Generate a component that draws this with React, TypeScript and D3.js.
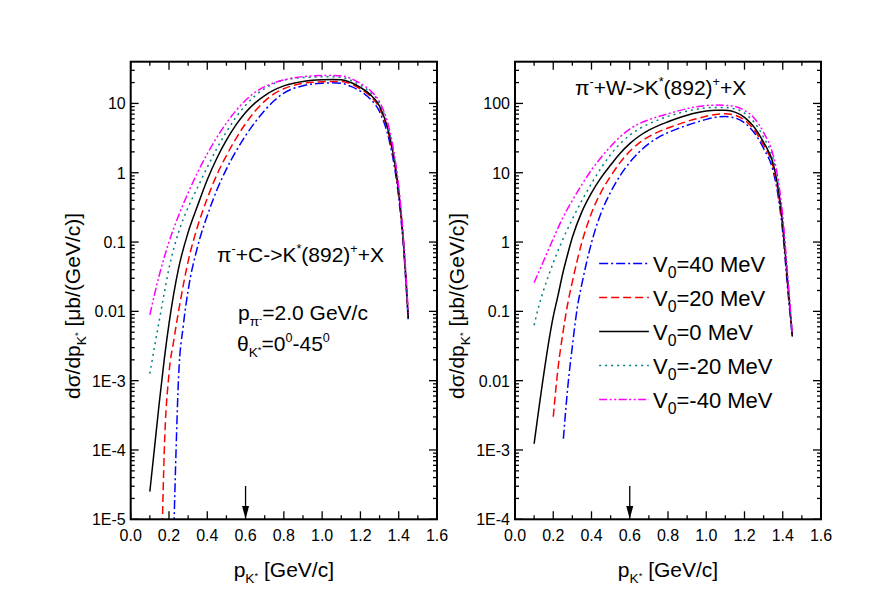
import React from 'react';
import * as d3 from 'd3';

// pi- + C  (left panel): [p_K* (GeV/c), dsigma/dp (mub/(GeV/c))]
const carbonV40 = [[0.226, 7.94e-6], [0.237, 1e-4], [0.25, 1.12e-3], [0.275, 6.31e-3], [0.3, 0.02], [0.35, 0.0871], [0.4, 0.24], [0.45, 0.562], [0.5, 1.13], [0.55, 2.04], [0.6, 3.43], [0.65, 5.37], [0.7, 7.94], [0.75, 11.0], [0.8, 14.1], [0.85, 16.4], [0.9, 18.0], [0.95, 19.1], [1.0, 19.6], [1.05, 19.8], [1.1, 19.5], [1.15, 17.6], [1.2, 15.0], [1.25, 11.7], [1.3, 7.59], [1.35, 2.95], [1.375, 1.35], [1.4, 0.437], [1.425, 0.0832], [1.45, 0.00708]];
const carbonV20 = [[0.165, 7.94e-6], [0.175, 8.91e-5], [0.2, 1.26e-3], [0.225, 3.8e-3], [0.25, 0.01], [0.3, 0.0525], [0.35, 0.17], [0.4, 0.427], [0.45, 0.933], [0.5, 1.77], [0.55, 3.11], [0.6, 5.11], [0.65, 7.76], [0.7, 10.8], [0.75, 13.8], [0.8, 16.3], [0.85, 18.2], [0.9, 19.5], [0.95, 20.2], [1.0, 20.6], [1.05, 20.8], [1.1, 20.8], [1.15, 19.1], [1.2, 16.2], [1.25, 12.9], [1.3, 8.51], [1.35, 3.39], [1.375, 1.55], [1.4, 0.501], [1.425, 0.0933], [1.45, 0.00794]];
const carbonV0 = [[0.1, 2.51e-5], [0.125, 1.12e-4], [0.15, 5.01e-4], [0.175, 2.0e-3], [0.2, 6.61e-3], [0.25, 0.0417], [0.3, 0.138], [0.35, 0.339], [0.4, 0.794], [0.45, 1.62], [0.5, 2.95], [0.55, 4.9], [0.6, 7.41], [0.65, 10.2], [0.7, 13.0], [0.75, 15.7], [0.8, 17.9], [0.85, 19.6], [0.9, 20.8], [0.95, 21.6], [1.0, 22.0], [1.05, 22.2], [1.1, 21.9], [1.15, 20.0], [1.2, 17.0], [1.25, 13.5], [1.3, 9.12], [1.35, 3.63], [1.375, 1.66], [1.4, 0.537], [1.425, 0.1], [1.45, 0.00794]];
const carbonVm20 = [[0.1, 1.26e-3], [0.125, 3.16e-3], [0.15, 7.59e-3], [0.175, 0.0182], [0.2, 0.0417], [0.25, 0.138], [0.3, 0.316], [0.35, 0.617], [0.4, 1.2], [0.45, 2.24], [0.5, 3.89], [0.55, 6.31], [0.6, 9.44], [0.65, 12.9], [0.7, 16.4], [0.75, 19.5], [0.8, 21.6], [0.85, 22.9], [0.9, 23.6], [0.95, 24.0], [1.0, 24.2], [1.05, 24.2], [1.1, 23.7], [1.15, 21.6], [1.2, 18.4], [1.25, 14.6], [1.3, 10.0], [1.35, 3.98], [1.375, 1.82], [1.4, 0.589], [1.425, 0.107], [1.45, 0.00891]];
const carbonVm40 = [[0.1, 8.91e-3], [0.15, 0.0339], [0.2, 0.1], [0.25, 0.24], [0.3, 0.513], [0.35, 1.02], [0.4, 1.88], [0.45, 3.24], [0.5, 5.21], [0.55, 7.89], [0.6, 11.1], [0.65, 14.5], [0.7, 17.5], [0.75, 19.9], [0.8, 21.9], [0.85, 23.4], [0.9, 24.4], [0.95, 24.9], [1.0, 25.3], [1.05, 25.4], [1.1, 25.0], [1.15, 22.9], [1.2, 19.5], [1.25, 15.5], [1.3, 10.5], [1.35, 4.37], [1.375, 2.0], [1.4, 0.631], [1.425, 0.112], [1.45, 0.00955]];

// pi- + W  (right panel)
const tungstenV40 = [[0.253, 1.45e-3], [0.275, 7.59e-3], [0.3, 0.0316], [0.325, 0.11], [0.35, 0.251], [0.4, 0.977], [0.45, 2.63], [0.5, 5.25], [0.55, 9.12], [0.6, 14.1], [0.65, 20.0], [0.7, 26.3], [0.75, 32.4], [0.8, 38.0], [0.85, 43.2], [0.9, 48.4], [0.95, 53.7], [1.0, 58.9], [1.05, 63.1], [1.1, 64.6], [1.15, 61.7], [1.2, 52.5], [1.25, 38.0], [1.3, 22.4], [1.35, 10.5], [1.375, 4.79], [1.4, 1.38], [1.425, 0.224], [1.45, 0.0427]];
const tungstenV20 = [[0.2, 3.02e-3], [0.225, 0.0151], [0.25, 0.0479], [0.275, 0.126], [0.3, 0.269], [0.35, 1.0], [0.4, 2.63], [0.45, 5.25], [0.5, 8.91], [0.55, 14.1], [0.6, 20.4], [0.65, 26.9], [0.7, 33.1], [0.75, 38.9], [0.8, 44.2], [0.85, 49.5], [0.9, 55.0], [0.95, 60.3], [1.0, 65.3], [1.05, 69.2], [1.1, 70.8], [1.15, 67.6], [1.2, 57.5], [1.25, 41.7], [1.3, 25.1], [1.35, 12.0], [1.375, 5.5], [1.4, 1.58], [1.425, 0.251], [1.45, 0.0437]];
const tungstenV0 = [[0.1, 1.23e-3], [0.2, 0.0841], [0.225, 0.17], [0.25, 0.355], [0.275, 0.661], [0.3, 1.17], [0.35, 2.75], [0.4, 5.13], [0.45, 8.51], [0.5, 12.9], [0.55, 19.1], [0.6, 26.3], [0.65, 33.9], [0.7, 41.2], [0.75, 47.9], [0.8, 54.3], [0.85, 61.0], [0.9, 67.6], [0.95, 73.3], [1.0, 77.6], [1.05, 79.8], [1.1, 79.4], [1.15, 75.0], [1.2, 63.1], [1.25, 45.7], [1.3, 27.5], [1.35, 13.5], [1.375, 6.31], [1.4, 1.78], [1.425, 0.282], [1.45, 0.0437]];
const tungstenVm20 = [[0.1, 0.0631], [0.125, 0.12], [0.15, 0.204], [0.2, 0.501], [0.25, 1.09], [0.3, 2.15], [0.35, 3.98], [0.4, 7.0], [0.45, 11.7], [0.5, 18.3], [0.55, 26.3], [0.6, 34.8], [0.65, 43.1], [0.7, 50.7], [0.75, 57.9], [0.8, 65.0], [0.85, 71.6], [0.9, 77.6], [0.95, 82.6], [1.0, 86.1], [1.05, 87.7], [1.1, 87.1], [1.15, 83.2], [1.2, 72.4], [1.25, 53.7], [1.3, 32.4], [1.35, 15.5], [1.375, 7.24], [1.4, 2.04], [1.425, 0.316], [1.45, 0.0457]];
const tungstenVm40 = [[0.1, 0.26], [0.15, 0.537], [0.2, 1.12], [0.25, 2.24], [0.3, 3.98], [0.35, 6.76], [0.4, 11.0], [0.45, 16.6], [0.5, 24.0], [0.55, 33.1], [0.6, 42.7], [0.65, 51.3], [0.7, 58.2], [0.75, 64.6], [0.8, 70.8], [0.85, 77.6], [0.9, 84.1], [0.95, 89.7], [1.0, 93.3], [1.05, 94.6], [1.1, 93.8], [1.15, 90.2], [1.2, 79.4], [1.25, 61.7], [1.3, 38.0], [1.35, 17.8], [1.375, 8.32], [1.4, 2.4], [1.425, 0.355], [1.45, 0.0468]];

const potentials = ['40', '20', '0', '-20', '-40'];
const xTickLabels = ['0.0', '0.2', '0.4', '0.6', '0.8', '1.0', '1.2', '1.4', '1.6'];
const carbonYLabels = ['1E-5', '1E-4', '1E-3', '0.01', '0.1', '1', '10'];
const tungstenYLabels = ['1E-4', '1E-3', '0.01', '0.1', '1', '10', '100'];
const thresholdP = 0.6;

const styles = [
  { color: '#0000ff', dash: '9,3,2,3' },
  { color: '#ff0000', dash: '8,4' },
  { color: '#000000', dash: null },
  { color: '#008080', dash: '2,4' },
  { color: '#ff00ff', dash: '8,2.5,2,2.5,2,2.5' },
];

const FONT = 'Liberation Sans, Arial, Helvetica, sans-serif';
const TOP = 61.7;
const BOTTOM = 519.3;

type Seg = { t: string; s?: number; sh?: number };

function Rich({ x, y, size, segs, anchor = 'start', transform }: any) {
  let cur = 0;
  return (
    <text x={x} y={y} fontSize={size} textAnchor={anchor} transform={transform} fontFamily={FONT} fill="#000">
      {segs.map((g: Seg, i: number) => {
        const sh = (g.sh ?? 0) * size;
        const dy = -(sh - cur);
        cur = sh;
        return <tspan key={i} dy={dy} fontSize={(g.s ?? 1) * size}>{g.t}</tspan>;
      })}
    </text>
  );
}

const kStar: Seg[] = [{ t: 'K', s: 0.65, sh: -0.3 }, { t: '*', s: 0.45, sh: -0.08 }];
const sup = (t: string): Seg => ({ t, s: 0.6, sh: 0.45 });

function Panel({ id, x0, x1, yMin, yMax, yLabels, curves, children }: any) {
  const x = d3.scaleLinear().domain([0, 1.6]).range([x0, x1]);
  const y = d3.scaleLog().domain([yMin, yMax]).range([BOTTOM, TOP]);
  const line = d3.line<number[]>().x(d => x(d[0])).y(d => y(d[1])).curve(d3.curveMonotoneX);

  const decades = d3.range(Math.log10(yMin), Math.ceil(Math.log10(yMax)) + 1);
  const minor: number[] = [];
  decades.forEach(e => { for (let m = 2; m <= 9; m++) { const v = m * Math.pow(10, e); if (v < yMax) minor.push(v); } });
  const majorY = yLabels.map((_: string, i: number) => Math.pow(10, Math.log10(yMin) + i));
  const xMajor = xTickLabels.map((_, i) => i * 0.2);
  const xMinor = d3.range(1, 16, 2).map(i => i * 0.1);

  const cx = (x0 + x1) / 2;
  const ax = x(thresholdP);
  return (
    <g>
      <defs>
        <clipPath id={id}><rect x={x0} y={TOP} width={x1 - x0} height={BOTTOM - TOP} /></clipPath>
      </defs>
      <g clipPath={`url(#${id})`}>
        {curves.map((c: number[][], i: number) => (
          <path key={i} d={line(c) as string} fill="none" stroke={styles[i].color} strokeWidth={1.5}
            strokeDasharray={styles[i].dash ?? undefined} />
        ))}
      </g>
      <g stroke="#000" strokeWidth={1.3}>
        {xMajor.map((v, i) => (
          <g key={'xm' + i}>
            <line x1={x(v)} x2={x(v)} y1={BOTTOM} y2={BOTTOM - 8} />
            <line x1={x(v)} x2={x(v)} y1={TOP} y2={TOP + 8} />
          </g>
        ))}
        {xMinor.map((v, i) => (
          <g key={'xn' + i}>
            <line x1={x(v)} x2={x(v)} y1={BOTTOM} y2={BOTTOM - 4} />
            <line x1={x(v)} x2={x(v)} y1={TOP} y2={TOP + 4} />
          </g>
        ))}
        {majorY.map((v: number, i: number) => (
          <g key={'ym' + i}>
            <line x1={x0} x2={x0 + 8} y1={y(v)} y2={y(v)} />
            <line x1={x1} x2={x1 - 8} y1={y(v)} y2={y(v)} />
          </g>
        ))}
        {minor.map((v, i) => (
          <g key={'yn' + i}>
            <line x1={x0} x2={x0 + 4} y1={y(v)} y2={y(v)} />
            <line x1={x1} x2={x1 - 4} y1={y(v)} y2={y(v)} />
          </g>
        ))}
      </g>
      <rect x={x0} y={TOP} width={x1 - x0} height={BOTTOM - TOP} fill="none" stroke="#000" strokeWidth={2} />
      {xTickLabels.map((t, i) => (
        <text key={'xl' + i} x={x(xMajor[i])} y={BOTTOM + 22} fontSize={16} textAnchor="middle" fontFamily={FONT}>{t}</text>
      ))}
      {yLabels.map((t: string, i: number) => (
        <text key={'yl' + i} x={x0 - 5} y={y(majorY[i]) + 6} fontSize={16} textAnchor="end" fontFamily={FONT}>{t}</text>
      ))}
      <line x1={ax} x2={ax} y1={486} y2={508} stroke="#000" strokeWidth={1.3} />
      <path d={`M${ax - 3.5},506 L${ax + 3.5},506 L${ax},519 Z`} fill="#000" />
      <Rich x={cx} y={577} size={21} anchor="middle" segs={[{ t: 'p' }, ...kStar, { t: ' [GeV/c]' }]} />
      <Rich x={0} y={0} size={21} anchor="middle" transform={`translate(${x0 - 51},306) rotate(-90)`}
        segs={[{ t: 'dσ/dp' }, ...kStar, { t: ' [μb/(GeV/c)]' }]} />
      {children}
    </g>
  );
}

export default function App() {
  const lx0 = 515, lx1 = 821;
  const legendX = d3.scaleLinear().domain([0, 1.6]).range([lx0, lx1]);
  return (
    <svg width={872} height={611} style={{ position: 'absolute', left: 0, top: 0, background: '#fff' }}>
      <rect width={872} height={611} fill="#fff" />
      <Panel id="clipC" x0={130.7} x1={437} yMin={1e-5} yMax={40} yLabels={carbonYLabels}
        curves={[carbonV40, carbonV20, carbonV0, carbonVm20, carbonVm40]}>
        <Rich x={217} y={262} size={21} segs={[{ t: 'π' }, sup('-'), { t: '+C->K' }, sup('*'), { t: '(892)' }, sup('+'), { t: '+X' }]} />
        <Rich x={238} y={320} size={21} segs={[{ t: 'p' }, { t: 'π', s: 0.65, sh: -0.3 }, { t: '-', s: 0.45, sh: -0.08 }, { t: '=2.0 GeV/c' }]} />
        <Rich x={237} y={351} size={21} segs={[{ t: 'θ' }, ...kStar, { t: '=0' }, sup('0'), { t: '-45' }, sup('0')]} />
      </Panel>
      <Panel id="clipW" x0={lx0} x1={lx1} yMin={1e-4} yMax={400} yLabels={tungstenYLabels}
        curves={[tungstenV40, tungstenV20, tungstenV0, tungstenVm20, tungstenVm40]}>
        <Rich x={575} y={95} size={21} segs={[{ t: 'π' }, sup('-'), { t: '+W->K' }, sup('*'), { t: '(892)' }, sup('+'), { t: '+X' }]} />
        {potentials.map((v, i) => {
          const ly = 263.5 + i * 34;
          return (
            <g key={v}>
              <line x1={legendX(0.44)} x2={legendX(0.7)} y1={ly} y2={ly} stroke={styles[i].color} strokeWidth={1.5}
                strokeDasharray={styles[i].dash ?? undefined} />
              <Rich x={653} y={ly + 8} size={22} segs={[{ t: 'V' }, { t: '0', s: 0.72, sh: -0.3 }, { t: `=${v} MeV` }]} />
            </g>
          );
        })}
      </Panel>
    </svg>
  );
}
